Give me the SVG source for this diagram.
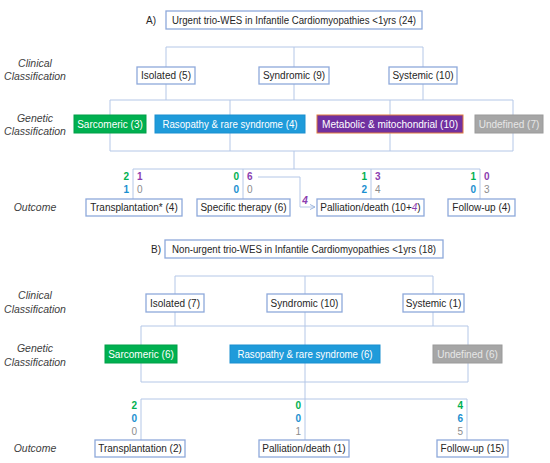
<svg xmlns="http://www.w3.org/2000/svg" width="550" height="463" viewBox="0 0 550 463">
<style>
.bg{fill:#fff}
.box{fill:#fff;stroke:#8EA9DB;stroke-width:1.3}
.ln{stroke:#B4C7E7;stroke-width:1;fill:none}
.t{font-family:"Liberation Sans",Arial,sans-serif;font-size:10px;fill:#262626;text-anchor:middle}
.lab{font-family:"Liberation Sans",Arial,sans-serif;font-size:10.5px;font-style:italic;fill:#404040;text-anchor:middle}
.w{fill:#fff}
.u{fill:#E6E6E6}
.n{font-family:"Liberation Sans",Arial,sans-serif;font-size:10px;font-weight:bold}
.r{text-anchor:end}
.g{fill:#00B050}
.b{fill:#1A8FD0}
.p{fill:#8B3DB0}
.gr{fill:#8C8C8C;font-weight:normal}
.sar{fill:#00B050;stroke:#00A048;stroke-width:1}
.ras{fill:#1F9BDA;stroke:#1A8FD0;stroke-width:1}
.met{fill:#7030A0;stroke:#E07A3A;stroke-width:1}
.und{fill:#A6A6A6;stroke:#9A9A9A;stroke-width:1}
</style>
<defs>
<marker id="ah" markerWidth="6" markerHeight="6" refX="5" refY="3" orient="auto" markerUnits="userSpaceOnUse">
<path d="M0,0.5 L5,3 L0,5.5" fill="none" stroke="#9DB6DE" stroke-width="1"/>
</marker>
</defs>
<rect class="bg" x="0" y="0" width="550" height="463"/>

<!-- side labels -->
<g id="labels">
<text class="lab" x="35" y="67">Clinical</text>
<text class="lab" x="35" y="80">Classification</text>
<text class="lab" x="35" y="122">Genetic</text>
<text class="lab" x="35" y="135">Classification</text>
<text class="lab" x="35" y="211">Outcome</text>
<text class="lab" x="35" y="299">Clinical</text>
<text class="lab" x="35" y="313">Classification</text>
<text class="lab" x="35" y="352">Genetic</text>
<text class="lab" x="35" y="366">Classification</text>
<text class="lab" x="35" y="452">Outcome</text>
</g>

<!-- connectors -->
<g id="connectors">
<!-- A -->
<path class="ln" d="M166,47 H423 M166,47 V100 M294,47 V100 M423,47 V100"/>
<path class="ln" d="M110,100 H513 M110,100 V151 M230,100 V151 M390,100 V151 M513,100 V151 M110,151 H513"/>
<path class="ln" d="M294,151 V169 M133,169 H480 M133,169 V199 M243,169 V199 M371,169 V199 M480,169 V199"/>
<path class="ln" d="M258,177 H300 V207 H315" marker-end="url(#ah)"/>
<!-- B -->
<path class="ln" d="M175,276 H433 M175,276 V326 M305,276 V440 M433,276 V326"/>
<path class="ln" d="M141,326 H468 M141,326 V382 M468,326 V382 M141,382 H468"/>
<path class="ln" d="M141,399 H467 M141,399 V440 M467,399 V440"/>
</g>

<!-- Part A -->
<g id="titleA">
<text class="t" x="151" y="24">A)</text>
<rect class="box" x="166" y="11" width="256" height="18"/>
<text class="t" x="294" y="23.5" textLength="244" lengthAdjust="spacingAndGlyphs">Urgent trio-WES in Infantile Cardiomyopathies &lt;1yrs (24)</text>
</g>
<g id="isolatedA"><rect class="box" x="137" y="67" width="58" height="17"/><text class="t" x="166" y="79">Isolated (5)</text></g>
<g id="syndromicA"><rect class="box" x="259" y="67" width="70" height="17"/><text class="t" x="294" y="79">Syndromic (9)</text></g>
<g id="systemicA"><rect class="box" x="389" y="67" width="68" height="17"/><text class="t" x="423" y="79">Systemic (10)</text></g>

<g id="sarcomericA"><rect class="sar" x="74" y="115" width="72" height="18"/><text class="t w" x="110" y="127.5">Sarcomeric (3)</text></g>
<g id="rasopathyA"><rect class="ras" x="155" y="115" width="150" height="18"/><text class="t w" x="230" y="127.5" textLength="135" lengthAdjust="spacingAndGlyphs">Rasopathy &amp; rare syndrome (4)</text></g>
<g id="metabolicA"><rect class="met" x="317" y="115" width="146" height="18"/><text class="t w" x="390" y="127.5" textLength="136" lengthAdjust="spacingAndGlyphs">Metabolic &amp; mitochondrial (10)</text></g>
<g id="undefinedA"><rect class="und" x="475" y="115" width="68" height="18"/><text class="t u" x="509" y="127.5">Undefined (7)</text></g>

<g id="numbersA">
<text class="n r g" x="129" y="180">2</text><text class="n p" x="137" y="180">1</text>
<text class="n r b" x="129" y="193">1</text><text class="n gr" x="137" y="193">0</text>
<text class="n r g" x="239" y="180">0</text><text class="n p" x="247" y="180">6</text>
<text class="n r b" x="239" y="193">0</text><text class="n gr" x="247" y="193">0</text>
<text class="n r g" x="367" y="180">1</text><text class="n p" x="375" y="180">3</text>
<text class="n r b" x="367" y="193">2</text><text class="n gr" x="375" y="193">4</text>
<text class="n r g" x="476" y="180">1</text><text class="n p" x="484" y="180">0</text>
<text class="n r b" x="476" y="193">0</text><text class="n gr" x="484" y="193">3</text>
<text class="n p" x="305" y="204" text-anchor="middle" font-style="italic" font-weight="normal">4</text>
</g>

<g id="transplantA"><rect class="box" x="86" y="199" width="96" height="17"/><text class="t" x="134" y="211">Transplantation* (4)</text></g>
<g id="therapyA"><rect class="box" x="197" y="199" width="93" height="17"/><text class="t" x="243.5" y="211">Specific therapy (6)</text></g>
<g id="palliationA"><rect class="box" x="317" y="199" width="107" height="17"/><text class="t" x="370.5" y="211">Palliation/death (10+<tspan class="p" font-style="italic">4</tspan>)</text></g>
<g id="followupA"><rect class="box" x="448" y="199" width="67" height="17"/><text class="t" x="481.5" y="211">Follow-up (4)</text></g>

<!-- Part B -->
<g id="titleB">
<text class="t" x="156" y="253">B)</text>
<rect class="box" x="165" y="240" width="278" height="18"/>
<text class="t" x="304" y="252.5" textLength="264" lengthAdjust="spacingAndGlyphs">Non-urgent trio-WES in Infantile Cardiomyopathies &lt;1yrs (18)</text>
</g>
<g id="isolatedB"><rect class="box" x="146" y="294" width="58" height="18"/><text class="t" x="175" y="306.5">Isolated (7)</text></g>
<g id="syndromicB"><rect class="box" x="267" y="294" width="75" height="18"/><text class="t" x="304.5" y="306.5">Syndromic (10)</text></g>
<g id="systemicB"><rect class="box" x="403" y="294" width="61" height="18"/><text class="t" x="433.5" y="306.5">Systemic (1)</text></g>

<g id="sarcomericB"><rect class="sar" x="105" y="345" width="72" height="18"/><text class="t w" x="141" y="357.5">Sarcomeric (6)</text></g>
<g id="rasopathyB"><rect class="ras" x="230" y="345" width="150" height="18"/><text class="t w" x="305" y="357.5" textLength="135" lengthAdjust="spacingAndGlyphs">Rasopathy &amp; rare syndrome (6)</text></g>
<g id="undefinedB"><rect class="und" x="433" y="345" width="69" height="18"/><text class="t u" x="467.5" y="357.5">Undefined (6)</text></g>

<g id="numbersB">
<text class="n r g" x="137" y="409">2</text>
<text class="n r b" x="137" y="422">0</text>
<text class="n r gr" x="137" y="435">0</text>
<text class="n r g" x="301" y="409">0</text>
<text class="n r b" x="301" y="422">0</text>
<text class="n r gr" x="301" y="435">1</text>
<text class="n r g" x="463" y="409">4</text>
<text class="n r b" x="463" y="422">6</text>
<text class="n r gr" x="463" y="435">5</text>
</g>

<g id="transplantB"><rect class="box" x="95" y="440" width="90" height="17"/><text class="t" x="140" y="452">Transplantation (2)</text></g>
<g id="palliationB"><rect class="box" x="259" y="440" width="90" height="17"/><text class="t" x="304" y="452">Palliation/death (1)</text></g>
<g id="followupB"><rect class="box" x="437" y="440" width="71" height="17"/><text class="t" x="472.5" y="452">Follow-up (15)</text></g>
</svg>
